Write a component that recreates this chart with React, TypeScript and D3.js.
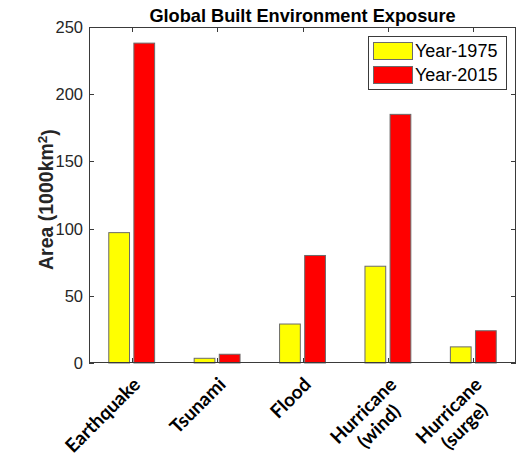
import React, { useEffect, useRef } from "react";
import * as d3 from "d3";

// Built-up area exposed to each hazard, in thousands of km²
const categories: string[] = ["Earthquake", "Tsunami", "Flood", "Hurricane\n(wind)", "Hurricane\n(surge)"];
const year1975: number[] = [97, 3.5, 29, 72, 12];
const year2015: number[] = [238, 6.5, 80, 185, 24];
const seriesNames: string[] = ["Year-1975", "Year-2015"];
const seriesColors: string[] = ["#ffff00", "#ff0000"];
const yTicks: number[] = [0, 50, 100, 150, 200, 250];

const W = 529;
const H = 458;
const margin = { left: 89, right: 13, top: 27, bottom: 95 };
const axisColor = "#3a3a3a";

export default function App() {
  const ref = useRef<SVGSVGElement | null>(null);

  useEffect(() => {
    const svg = d3.select(ref.current);
    svg.selectAll("*").remove();

    const x0 = margin.left;
    const x1 = W - margin.right;
    const y0 = H - margin.bottom;
    const y1 = margin.top;

    const x = d3.scaleLinear().domain([0.5, categories.length + 0.5]).range([x0, x1]);
    const y = d3.scaleLinear().domain([0, 250]).range([y0, y1]);

    const barW = 0.243;
    const offsets = [-0.147, 0.147];
    const series = [year1975, year2015];

    // bars
    series.forEach((vals, si) => {
      svg
        .append("g")
        .selectAll("rect")
        .data(vals)
        .join("rect")
        .attr("x", (_d, i) => x(i + 1 + offsets[si] - barW / 2))
        .attr("width", x(barW) - x(0))
        .attr("y", (d) => y(d))
        .attr("height", (d) => y(0) - y(d))
        .attr("fill", seriesColors[si])
        .attr("stroke", "#6b6b6b")
        .attr("stroke-width", 1);
    });

    // axes box
    svg
      .append("rect")
      .attr("x", x0 + 0.5)
      .attr("y", y1 + 0.5)
      .attr("width", x1 - x0 - 1)
      .attr("height", y0 - y1 - 1)
      .attr("fill", "none")
      .attr("stroke", axisColor)
      .attr("stroke-width", 1);

    const tickLen = 5;
    // y ticks (inside, both sides)
    const gy = svg.append("g");
    yTicks.forEach((t) => {
      const yy = Math.round(y(t)) + 0.5;
      gy.append("line").attr("x1", x0).attr("x2", x0 + tickLen).attr("y1", yy).attr("y2", yy).attr("stroke", axisColor);
      gy.append("line").attr("x1", x1 - tickLen).attr("x2", x1).attr("y1", yy).attr("y2", yy).attr("stroke", axisColor);
      gy.append("text")
        .attr("x", x0 - 6)
        .attr("y", y(t))
        .attr("dy", "0.36em")
        .attr("text-anchor", "end")
        .attr("font-family", "'Liberation Sans', Arial, sans-serif")
        .attr("font-size", 16.5)
        .attr("fill", "#262626")
        .text(String(t));
    });

    // x ticks (inside, top and bottom) and rotated category labels
    const gx = svg.append("g");
    categories.forEach((c, i) => {
      const xx = Math.round(x(i + 1)) + 0.5;
      gx.append("line").attr("x1", xx).attr("x2", xx).attr("y1", y0).attr("y2", y0 - tickLen).attr("stroke", axisColor);
      gx.append("line").attr("x1", xx).attr("x2", xx).attr("y1", y1).attr("y2", y1 + tickLen).attr("stroke", axisColor);

      const lines = c.split("\n");
      const lineH = 22;
      const g = gx
        .append("g")
        .attr("transform", `translate(${x(i + 1) + 5},${y0 + 18}) rotate(-45)`);
      const texts = lines.map((ln) =>
        g
          .append("text")
          .attr("font-family", "Lato, 'Open Sans', sans-serif")
          .attr("font-weight", "bold")
          .attr("font-size", 19)
          .attr("fill", "#000")
          .text(ln)
      );
      const widths = texts.map((t) => (t.node() as SVGTextElement).getComputedTextLength());
      const blockW = Math.max(...widths);
      texts.forEach((t, li) => {
        t.attr("text-anchor", "middle")
          .attr("x", -blockW / 2)
          .attr("y", li * lineH)
          .attr("dy", "0.35em");
      });
    });

    // title
    svg
      .append("text")
      .attr("x", (x0 + x1) / 2)
      .attr("y", 22)
      .attr("text-anchor", "middle")
      .attr("font-family", "'Liberation Sans', Arial, sans-serif")
      .attr("font-weight", "bold")
      .attr("font-size", 18.2)
      .attr("fill", "#000")
      .text("Global Built Environment Exposure");

    // y label
    const yl = svg
      .append("text")
      .attr("transform", `translate(53,270) rotate(-90)`)
      .attr("text-anchor", "start")
      .attr("font-family", "'Liberation Sans', Arial, sans-serif")
      .attr("font-weight", "bold")
      .attr("font-size", 19.5)
      .attr("fill", "#262626");
    yl.append("tspan").text("Area (1000km");
    yl.append("tspan").attr("dy", "-0.45em").attr("font-size", 13.5).text("2");
    yl.append("tspan").attr("dy", "0.45em").text(")");

    // legend
    const lg = svg.append("g");
    lg.append("rect")
      .attr("x", 368.5)
      .attr("y", 36.5)
      .attr("width", 138)
      .attr("height", 53)
      .attr("fill", "#fff")
      .attr("stroke", "#3a3a3a");
    seriesNames.forEach((name, si) => {
      const top = 42 + si * 24;
      lg.append("rect")
        .attr("x", 373.5)
        .attr("y", top + 0.5)
        .attr("width", 39)
        .attr("height", 17)
        .attr("fill", seriesColors[si])
        .attr("stroke", "#6b6b6b");
      lg.append("text")
        .attr("x", 415)
        .attr("y", top + 9)
        .attr("dy", "0.36em")
        .attr("font-family", "'Liberation Sans', Arial, sans-serif")
        .attr("font-size", 18)
        .attr("fill", "#000")
        .text(name);
    });
  }, []);

  return (
    <svg
      ref={ref}
      width={W}
      height={H}
      style={{ position: "absolute", left: 0, top: 0, background: "#fff" }}
    />
  );
}
